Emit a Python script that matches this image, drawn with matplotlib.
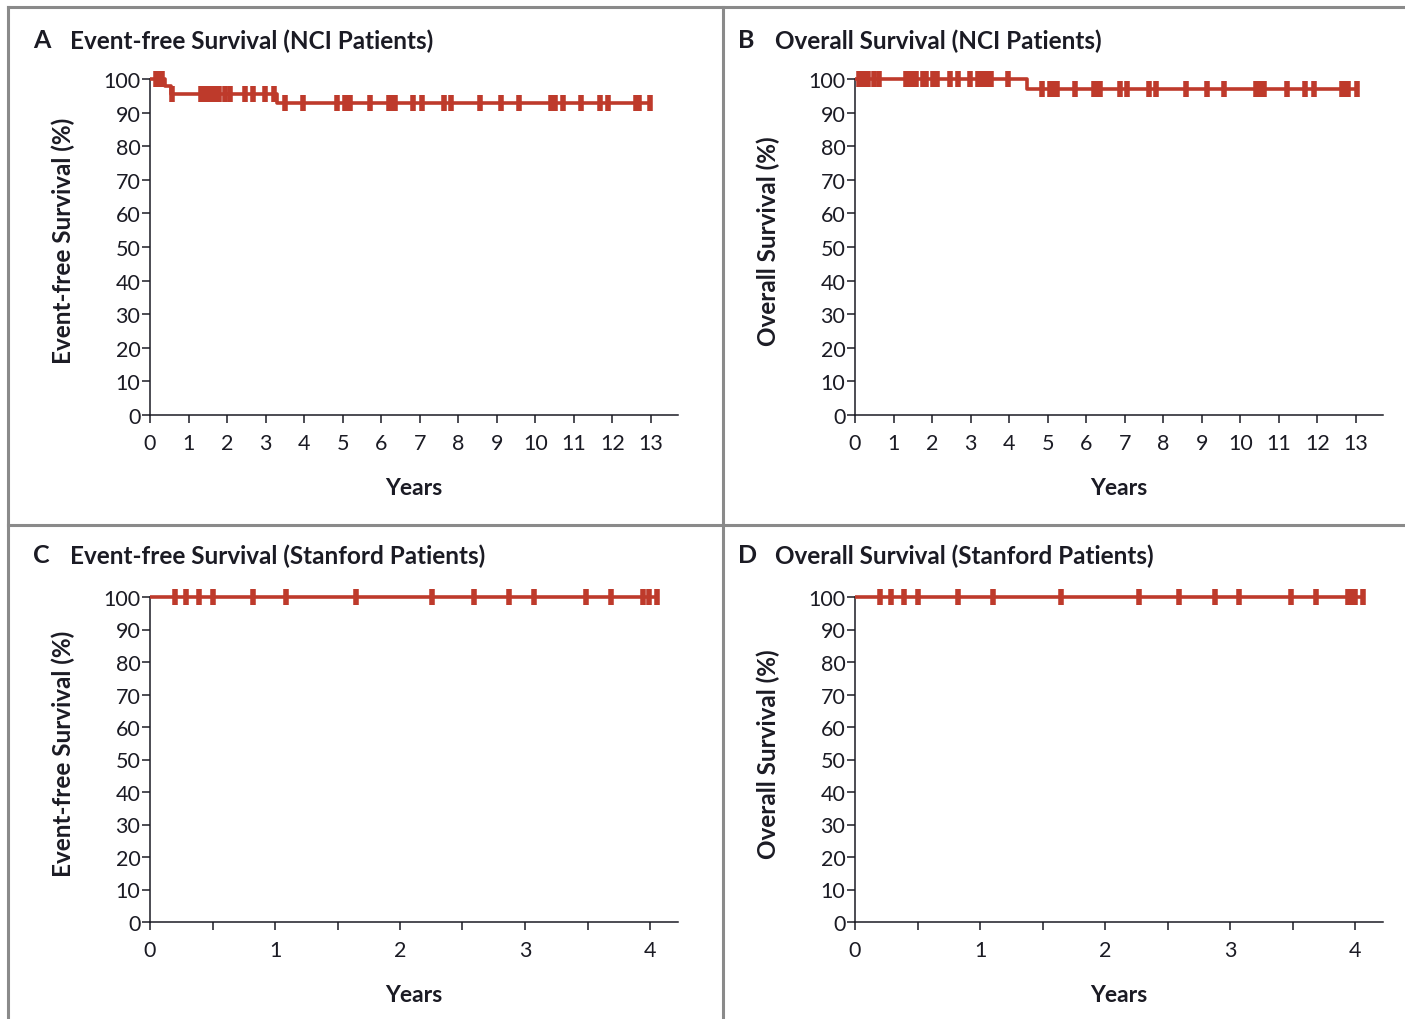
import numpy as np
import matplotlib.pyplot as plt
from matplotlib.lines import Line2D

plt.rcParams['font.family'] = ['Lato', 'DejaVu Sans']

RED = '#BE3A2B'
INK = '#1b1b24'
GRAY = '#8a8a8a'

# ---- panel A: event-free survival, NCI ----
a_times = [0, 0.39, 0.55, 3.29, 12.97]
a_surv = [100, 97.8, 95.6, 92.9, 92.9]
a_cens = [0.15, 0.22, 0.30, 0.57, 1.32, 1.40, 1.47, 1.55, 1.62, 1.70, 1.78, 1.95,
          2.08, 2.46, 2.67, 2.98, 3.22, 3.50, 3.97, 4.85, 5.06, 5.13, 5.20, 5.71,
          6.20, 6.28, 6.35, 6.82, 7.06, 7.63, 7.80, 8.56, 9.10, 9.57, 10.40, 10.50,
          10.72, 11.18, 11.68, 11.88, 12.60, 12.70, 12.97]

# ---- panel B: overall survival, NCI ----
b_times = [0, 4.46, 13.02]
b_surv = [100, 96.9, 96.9]
b_cens = [0.10, 0.18, 0.26, 0.34, 0.50, 0.62, 1.32, 1.40, 1.50, 1.58, 1.76, 1.85,
          2.02, 2.13, 2.46, 2.67, 2.98, 3.20, 3.28, 3.36, 3.44, 3.52, 3.97, 4.85,
          5.06, 5.15, 5.25, 5.71, 6.20, 6.28, 6.35, 6.88, 7.07, 7.64, 7.81, 8.59,
          9.13, 9.57, 10.40, 10.50, 10.62, 11.20, 11.67, 11.90, 12.63, 12.72, 12.80,
          13.02]

# ---- panel C: event-free survival, Stanford ----
c_times = [0, 4.06]
c_surv = [100, 100]
c_cens = [0.20, 0.29, 0.39, 0.50, 0.82, 1.09, 1.65, 2.26, 2.59, 2.87, 3.07, 3.49,
          3.69, 3.94, 3.99, 4.06]

# ---- panel D: overall survival, Stanford ----
d_times = [0, 4.06]
d_surv = [100, 100]
d_cens = [0.20, 0.29, 0.39, 0.50, 0.82, 1.10, 1.65, 2.27, 2.59, 2.88, 3.07, 3.49,
          3.69, 3.94, 3.97, 4.00, 4.06]

panels = [
    ('A', 'Event-free Survival (NCI Patients)', 'Event-free Survival (%)', a_times, a_surv, a_cens, 13),
    ('B', 'Overall Survival (NCI Patients)', 'Overall Survival (%)', b_times, b_surv, b_cens, 13),
    ('C', 'Event-free Survival (Stanford Patients)', 'Event-free Survival (%)', c_times, c_surv, c_cens, 4),
    ('D', 'Overall Survival (Stanford Patients)', 'Overall Survival (%)', d_times, d_surv, d_cens, 4),
]

W, H = 1405, 1020
fig = plt.figure(figsize=(W / 100, H / 100), dpi=100)

# axes boxes in pixels: left, y0 (pixel of 0%), y100 (pixel of 100%)
boxes = [(150, 416, 80), (855, 416, 80), (150, 923, 598), (855, 923, 598)]
titles_y = [41, 41, 556, 556]
title_x = [(33, 70), (738, 775), (33, 70), (738, 775)]

for (letter, title, ylab, times, surv, cens, xmax), (lx, y0, y100), ty, (tx1, tx2) in zip(panels, boxes, titles_y, title_x):
    ppu = (y0 - y100) / 100.0
    top = y100 - 4 * ppu
    ax = fig.add_axes([lx / W, 1 - y0 / H, 528 / W, (y0 - top) / H])
    # x range from pixel width
    xpix = 501 if xmax == 13 else 500
    ax.set_xlim(0, 528 / xpix * xmax)
    ax.set_ylim(0, 104)

    ax.step(times, surv, where='post', color=RED, lw=2.6, solid_capstyle='butt', zorder=3)
    cy = np.array(surv)[np.searchsorted(times, cens, side='right') - 1]
    ax.plot(cens, cy, ls='none', marker='|', ms=12, mew=4, color=RED, zorder=4)

    for s in ['top', 'right']:
        ax.spines[s].set_visible(False)
    ax.spines['left'].set_bounds(0, 100)
    for s in ['left', 'bottom']:
        ax.spines[s].set_linewidth(1.1)
        ax.spines[s].set_color(INK)

    ax.set_yticks(range(0, 101, 10))
    if xmax == 13:
        ax.set_xticks(range(0, 14))
    else:
        ax.set_xticks(range(0, 5))
        ax.set_xticks(np.arange(0.5, 4, 1.0), minor=True)
        ax.tick_params(axis='x', which='minor', length=6, width=1.1, color=INK)
    ax.tick_params(axis='y', which='major', length=6, width=1.1, color=INK,
                   labelsize=15.5, labelcolor=INK, pad=1)
    ax.tick_params(axis='x', which='major', length=6, width=1.1, color=INK,
                   labelsize=15.5, labelcolor=INK, pad=7)

    ax.set_ylabel(ylab, fontsize=17.5, fontweight='bold', color=INK, labelpad=20)
    ax.set_xlabel('Years', fontsize=16.5, fontweight='bold', color=INK, labelpad=17)

    fig.text(tx1 / W, 1 - ty / H, letter, fontsize=18, fontweight='bold', color=INK, va='center')
    fig.text(tx2 / W, 1 - ty / H, title, fontsize=17.5, fontweight='bold', color=INK, va='center')

# panel frame lines
def fline(x0, y0, x1, y1):
    fig.add_artist(Line2D([x0 / W, x1 / W], [1 - y0 / H, 1 - y1 / H], color=GRAY, lw=2.2))

fline(8, 8, 1405, 8)
fline(8, 8, 8, 1020)
fline(723, 8, 723, 1020)
fline(8, 526, 1405, 526)

fig.savefig('out.png', dpi=100, facecolor='white')
